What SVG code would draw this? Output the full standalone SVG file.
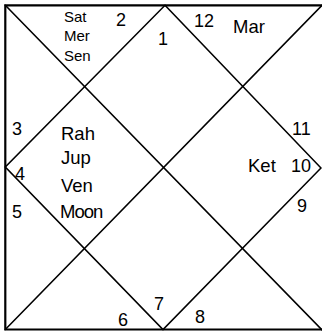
<svg xmlns="http://www.w3.org/2000/svg" width="322" height="333" viewBox="0 0 322 333">
<style>
.ln{fill:none;stroke:#000;stroke-width:1.6;stroke-linecap:round;stroke-linejoin:miter}
.frame{fill:none;stroke:#000;stroke-width:2.2}
text{font-family:"Liberation Sans",Arial,Helvetica,sans-serif;fill:#000}
.num{font-size:18px}
.pl{font-size:18.5px}
.sm{font-size:15px}
</style>
<rect width="322" height="333" fill="#fff"/>
<g id="connectors">
<path class="frame" d="M323,5.3 H5.3 V329.5 H323"/>
<path class="ln" d="M5.3,5.3 L322,330"/>
<path class="ln" d="M322,5.3 L5.3,329.5"/>
<path class="ln" d="M165,5.3 L321,168 L163,329.5 L5.3,167 Z"/>
</g>
<g id="house1"><text class="num" x="158" y="45">1</text></g>
<g id="house2"><text class="num" x="116" y="26">2</text>
<text class="sm" x="64" y="21.5">Sat</text>
<text class="sm" x="64" y="40.5">Mer</text>
<text class="sm" x="64" y="61">Sen</text></g>
<g id="house3"><text class="num" x="12" y="135">3</text></g>
<g id="house4"><text class="num" x="15" y="180">4</text>
<text class="pl" x="61" y="140">Rah</text>
<text class="pl" x="61" y="163.5">Jup</text>
<text class="pl" x="61" y="191.5">Ven</text>
<text class="pl" x="60" y="218" letter-spacing="-1">Moon</text></g>
<g id="house5"><text class="num" x="12" y="218">5</text></g>
<g id="house6"><text class="num" x="118" y="326">6</text></g>
<g id="house7"><text class="num" x="154" y="310">7</text></g>
<g id="house8"><text class="num" x="195" y="323">8</text></g>
<g id="house9"><text class="num" x="297" y="212">9</text></g>
<g id="house10"><text class="num" x="291" y="172">10</text>
<text class="pl" x="248" y="172">Ket</text></g>
<g id="house11"><text class="num" x="292" y="135">11</text></g>
<g id="house12"><text class="num" x="194" y="27">12</text>
<text class="pl" x="233" y="33">Mar</text></g>
</svg>
